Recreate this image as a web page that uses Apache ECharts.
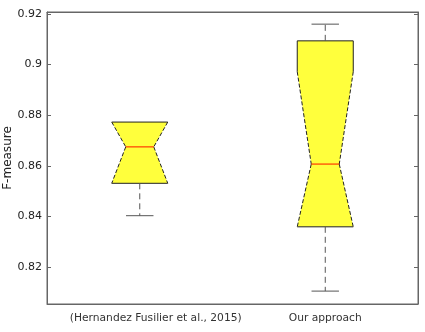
<!DOCTYPE html>
<html><head><meta charset="utf-8">
<script src="https://cdn.jsdelivr.net/npm/echarts@6/dist/echarts.min.js"></script>
<style>html,body{margin:0;padding:0;background:#fff}#c{width:425px;height:332px}</style>
</head><body><div id="c"></div>
<script>
const categories = ['(Hernandez Fusilier et al., 2015)', 'Our approach'];
const whiskerLow = [0.8403, 0.8105];
const q1 = [0.8531, 0.8359];
const notchLow = [0.8531, 0.8359];
const median = [0.8675, 0.8607];
const notchHigh = [0.8773, 0.8972];
const q3 = [0.8773, 0.9094];
const whiskerHigh = [0.8773, 0.9160];
const yTicks = [0.82, 0.84, 0.86, 0.88, 0.90, 0.92];

const data = categories.map((c, i) => [i, whiskerLow[i], q1[i], notchLow[i], median[i], notchHigh[i], q3[i], whiskerHigh[i]]);

function renderItem(params, api) {
  const i = api.value(0);
  const x = api.coord([i, 0.86])[0];
  const band = api.size([1, 0])[0];
  const hw = band * 0.151, nw = hw * 0.5, cw = hw * 0.49;
  const Y = v => api.coord([i, v])[1];
  const yWL = Y(api.value(1)), yQ1 = Y(api.value(2)), yNL = Y(api.value(3)),
        yMed = Y(api.value(4)), yNH = Y(api.value(5)), yQ3 = Y(api.value(6)), yWH = Y(api.value(7));
  const edge = '#222', wcol = '#555';
  const ln = (x1, y1, x2, y2, stroke, dash, w) => ({type: 'line', shape: {x1, y1, x2, y2},
    style: {stroke, lineWidth: w || 1, lineDash: dash || null}});
  const els = [];
  els.push({type: 'polygon', shape: {points: [
    [x - hw, yQ3], [x + hw, yQ3], [x + hw, yNH], [x + nw, yMed], [x + hw, yNL], [x + hw, yQ1],
    [x - hw, yQ1], [x - hw, yNL], [x - nw, yMed], [x - hw, yNH]]},
    style: {fill: '#ffff3c', stroke: null}});
  els.push(ln(x - hw, yQ3, x + hw, yQ3, edge));
  els.push(ln(x - hw, yQ1, x + hw, yQ1, edge));
  [-1, 1].forEach(s => {
    if (Math.abs(yNH - yQ3) > 0.5) els.push(ln(x + s * hw, yQ3, x + s * hw, yNH, edge));
    if (Math.abs(yQ1 - yNL) > 0.5) els.push(ln(x + s * hw, yNL, x + s * hw, yQ1, edge));
    els.push(ln(x + s * hw, yNH, x + s * nw, yMed, edge, [4, 2]));
    els.push(ln(x + s * nw, yMed, x + s * hw, yNL, edge, [4, 2]));
  });
  els.push(ln(x - nw, yMed, x + nw, yMed, '#ff3a00', null, 1.2));
  if (yQ3 - yWH > 0.5) {
    els.push(ln(x, yQ3, x, yWH, wcol, [6, 4]));
    els.push(ln(x - cw, yWH, x + cw, yWH, wcol));
  }
  if (yWL - yQ1 > 0.5) {
    els.push(ln(x, yQ1, x, yWL, wcol, [6, 4]));
    els.push(ln(x - cw, yWL, x + cw, yWL, wcol));
  }
  return {type: 'group', children: els};
}

const chart = echarts.init(document.getElementById('c'), null, {renderer: 'canvas'});
const yMin = 0.8054, yMax = 0.9208;
const axisCommon = {
  type: 'value', min: yMin, max: yMax, splitLine: {show: false},
  axisLine: {show: true, lineStyle: {color: '#666'}},
  axisTick: {show: true, inside: true, length: 4, customValues: yTicks, lineStyle: {color: '#666'}}
};
chart.setOption({
  animation: false,
  grid: {left: 47, right: 7, top: 12, bottom: 28, show: true, borderColor: '#666', borderWidth: 1,
    containLabel: false, outerBoundsMode: 'none'},
  xAxis: [{
    type: 'category', data: categories,
    axisLine: {show: true, lineStyle: {color: '#666'}}, axisTick: {show: false},
    axisLabel: {color: '#333', fontSize: 10.7, fontFamily: 'DejaVu Sans', margin: 9, interval: 0, hideOverlap: false,
      formatter: (v, idx) => idx === 0 ? '{s|' + v + '}' : v,
      rich: {s: {padding: [0, 0, 0, 32], fontSize: 10.7, color: '#333', fontFamily: 'DejaVu Sans'}}}
  }, {
    type: 'category', data: categories, position: 'top',
    axisLine: {show: true, lineStyle: {color: '#666'}}, axisTick: {show: false}, axisLabel: {show: false}
  }],
  yAxis: [Object.assign({}, axisCommon, {
    name: 'F-measure', nameLocation: 'middle', nameGap: 33, nameMoveOverlap: false,
    nameTextStyle: {color: '#222', fontSize: 12, fontFamily: 'DejaVu Sans'},
    axisLabel: {color: '#222', fontSize: 11, fontFamily: 'DejaVu Sans', margin: 5,
      customValues: yTicks, formatter: v => String(+v.toFixed(2))}
  }), Object.assign({}, axisCommon, {position: 'right', axisLabel: {show: false}})],
  series: [{type: 'custom', renderItem, data, encode: {x: 0, y: [1, 7]}, clip: false}]
});
</script></body></html>
